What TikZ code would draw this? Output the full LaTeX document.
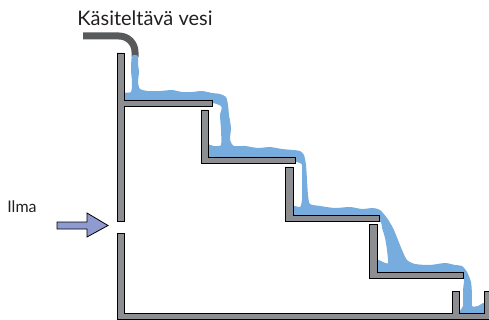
\documentclass[tikz,border=0pt]{standalone}
\usepackage{fontspec}
\setmainfont{Lato}
\definecolor{wallgray}{RGB}{141,142,145}
\definecolor{pipegray}{RGB}{88,89,91}
\definecolor{waterblue}{RGB}{118,172,222}
\definecolor{airblue}{RGB}{142,154,208}
\definecolor{textgray}{RGB}{35,31,32}
\tikzset{
  wall/.style={fill=wallgray,draw=black,line width=0.8pt,line join=miter},
  pipe/.style={draw=pipegray,line width=7pt,rounded corners=16pt},
  water/.style={fill=waterblue},
  label/.style={text=textgray,inner sep=0pt}
}
\begin{document}
\begin{tikzpicture}[x=1pt,y=-1pt]
    \useasboundingbox (0,0) rectangle (489,320);

    % Labels
    \node[label,font=\fontsize{20}{22}\selectfont] (title) at (145,18) {Käsiteltävä vesi};
    \node[label,font=\fontsize{16}{18}\selectfont] (ilma) at (22,207) {Ilma};

    % Inlet pipe
    \draw[pipe] (83,36) -- (135,36) -- (135,57);

    % Water running down the steps
    \fill[water] plot[smooth cycle,tension=0.4] coordinates {
      (132,56) (138,56) (138,64) (139,72) (138,82) (140,89) (148,91)
      (160,91) (172,90) (182,92) (192,92) (202,91) (212,93) (220,94)
      (226,97) (228,105) (229,115) (231,128) (230,140) (234,146)
      (245,146) (258,148) (270,147) (282,149) (293,150) (300,151)
      (304,155) (306,165) (307,180) (308,195) (310,204) (320,206)
      (335,208) (350,207) (362,209) (373,208) (380,210) (387,218)
      (393,228) (398,240) (402,250) (407,260) (415,264) (430,265)
      (445,263) (455,265) (462,266) (467,272) (471,282) (472,295)
      (472,306) (478,306) (484,303) (486,313) (459,314) (463,306)
      (463,290) (463,276) (440,273) (377,273) (377,260) (383,262)
      (388,263) (387,250) (385,238) (382,228) (379,221) (350,216)
      (293,216) (293,206) (300,207) (302,200) (302,185) (302,170)
      (300,163) (270,158) (208,158) (208,145) (214,146) (221,145)
      (221,130) (220,115) (221,106) (200,101) (124,101) (124,93)
      (131,92) (132,82) (131,70)
    };

    % Upper wall with the first step
    \draw[wall] (117,53) -- (124,53) -- (124,100) -- (212,100) -- (212,106)
      -- (124,106) -- (124,221) -- (117,221) -- cycle;

    % Steps
    \draw[wall] (201,110) -- (208,110) -- (208,157) -- (295,157) -- (295,163)
      -- (201,163) -- cycle;
    \draw[wall] (285,167) -- (293,167) -- (293,215) -- (379,215) -- (379,221)
      -- (285,221) -- cycle;
    \draw[wall] (369,224) -- (377,224) -- (377,272) -- (463,272) -- (463,278)
      -- (369,278) -- cycle;

    % Lower wall, floor and outlet channel
    \draw[wall] (117,233) -- (124,233) -- (124,313) -- (452,313) -- (452,291)
      -- (459,291) -- (459,313) -- (484,313) -- (484,291) -- (494,291)
      -- (494,319) -- (117,319) -- cycle;

    % Air inlet arrow
    \draw[fill=airblue,draw=black,line width=0.8pt] (57,222) -- (87,222)
      -- (87,213) -- (108,225.5) -- (87,237) -- (87,229) -- (57,229) -- cycle;
\end{tikzpicture}
\end{document}
